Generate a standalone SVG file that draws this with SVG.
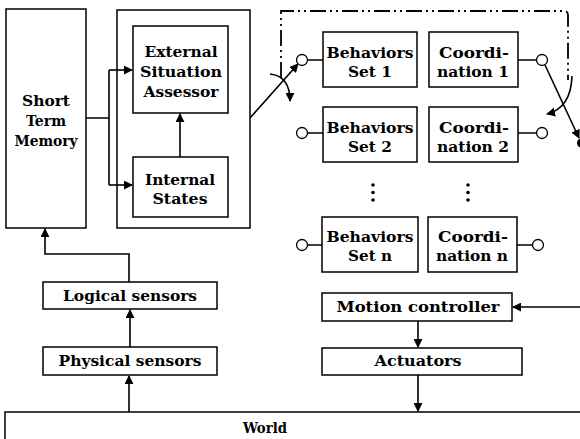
<svg xmlns="http://www.w3.org/2000/svg" width="580" height="439" viewBox="0 0 580 439">
<style>
.box{fill:#fff;stroke:#000;stroke-width:1.5}
.t{font-family:"DejaVu Serif","Liberation Serif",serif;font-weight:bold;font-size:15px;fill:#000;text-anchor:middle}
.ln{fill:none;stroke:#000;stroke-width:1.6}
.dd{fill:none;stroke:#000;stroke-width:1.8;stroke-dasharray:16 4 2 4 2 4}
.c{fill:#fff;stroke:#000;stroke-width:1.3}
</style>
<defs>
<marker id="ah" viewBox="0 0 10 10" refX="9" refY="5" markerWidth="9" markerHeight="9" markerUnits="userSpaceOnUse" orient="auto">
<path d="M0,0 L10,5 L0,10 z" fill="#000"/>
</marker>
</defs>
<rect width="580" height="439" fill="#fff"/>
<g id="stm"><rect class="box" x="6" y="9" width="80" height="219"/>
<text class="t" x="46" y="106" textLength="48" lengthAdjust="spacingAndGlyphs">Short</text>
<text class="t" x="46" y="126" textLength="40" lengthAdjust="spacingAndGlyphs">Term</text>
<text class="t" x="46" y="146" textLength="63" lengthAdjust="spacingAndGlyphs">Memory</text></g>
<g id="container"><rect class="box" x="117" y="10" width="133" height="218"/></g>
<g id="esa"><rect class="box" x="133" y="26" width="95" height="87"/>
<text class="t" x="181" y="57" textLength="73" lengthAdjust="spacingAndGlyphs">External</text>
<text class="t" x="181" y="77" textLength="82" lengthAdjust="spacingAndGlyphs">Situation</text>
<text class="t" x="181" y="97" textLength="75" lengthAdjust="spacingAndGlyphs">Assessor</text></g>
<g id="internal"><rect class="box" x="133" y="157" width="95" height="60"/>
<text class="t" x="180" y="185" textLength="70" lengthAdjust="spacingAndGlyphs">Internal</text>
<text class="t" x="180" y="204" textLength="55" lengthAdjust="spacingAndGlyphs">States</text></g>
<g id="bs1"><rect class="box" x="323" y="32" width="94" height="55"/>
<text class="t" x="370" y="58" textLength="87" lengthAdjust="spacingAndGlyphs">Behaviors</text>
<text class="t" x="370" y="77" textLength="44" lengthAdjust="spacingAndGlyphs">Set 1</text></g>
<g id="co1"><rect class="box" x="429" y="32" width="89" height="55"/>
<text class="t" x="474" y="58" textLength="70" lengthAdjust="spacingAndGlyphs">Coordi-</text>
<text class="t" x="473" y="77" textLength="72" lengthAdjust="spacingAndGlyphs">nation 1</text></g>
<g id="bs2"><rect class="box" x="323" y="107" width="94" height="55"/>
<text class="t" x="370" y="133" textLength="87" lengthAdjust="spacingAndGlyphs">Behaviors</text>
<text class="t" x="370" y="152" textLength="44" lengthAdjust="spacingAndGlyphs">Set 2</text></g>
<g id="co2"><rect class="box" x="429" y="107" width="89" height="55"/>
<text class="t" x="474" y="133" textLength="70" lengthAdjust="spacingAndGlyphs">Coordi-</text>
<text class="t" x="473" y="152" textLength="72" lengthAdjust="spacingAndGlyphs">nation 2</text></g>
<g id="bsn"><rect class="box" x="322" y="217" width="96" height="55"/>
<text class="t" x="370" y="242" textLength="87" lengthAdjust="spacingAndGlyphs">Behaviors</text>
<text class="t" x="370" y="261" textLength="44" lengthAdjust="spacingAndGlyphs">Set n</text></g>
<g id="con"><rect class="box" x="428" y="217" width="89" height="55"/>
<text class="t" x="473" y="242" textLength="70" lengthAdjust="spacingAndGlyphs">Coordi-</text>
<text class="t" x="472" y="261" textLength="72" lengthAdjust="spacingAndGlyphs">nation n</text></g>
<g id="dots" fill="#000">
<circle cx="373" cy="185" r="1.8"/><circle cx="373" cy="192.5" r="1.8"/><circle cx="373" cy="200" r="1.8"/>
<circle cx="468" cy="185" r="1.8"/><circle cx="468" cy="192.5" r="1.8"/><circle cx="468" cy="200" r="1.8"/>
</g>
<g id="logical"><rect class="box" x="43" y="282" width="174" height="27"/>
<text class="t" x="130" y="301" textLength="134" lengthAdjust="spacingAndGlyphs">Logical sensors</text></g>
<g id="physical"><rect class="box" x="43" y="347" width="174" height="28"/>
<text class="t" x="130" y="366" textLength="143" lengthAdjust="spacingAndGlyphs">Physical sensors</text></g>
<g id="motion"><rect class="box" x="322" y="293" width="190" height="28"/>
<text class="t" x="418" y="312" textLength="163" lengthAdjust="spacingAndGlyphs">Motion controller</text></g>
<g id="actuators"><rect class="box" x="322" y="348" width="200" height="27"/>
<text class="t" x="418" y="366" textLength="87" lengthAdjust="spacingAndGlyphs">Actuators</text></g>
<g id="world"><rect class="box" x="5" y="412" width="590" height="40"/>
<text class="t" x="265" y="433" textLength="44" lengthAdjust="spacingAndGlyphs">World</text></g>
<g id="connectors">
<path class="ln" d="M86,118 H109 M109,70 V185"/>
<path class="ln" d="M109,70 H132" marker-end="url(#ah)"/>
<path class="ln" d="M109,185 H132" marker-end="url(#ah)"/>
<path class="ln" d="M180,157 V114" marker-end="url(#ah)"/>
<path class="ln" d="M129,282 V254 H45 V229" marker-end="url(#ah)"/>
<path class="ln" d="M130,347 V310" marker-end="url(#ah)"/>
<path class="ln" d="M129,412 V376" marker-end="url(#ah)"/>
<path class="ln" d="M418,321 V347" marker-end="url(#ah)"/>
<path class="ln" d="M418,375 V411" marker-end="url(#ah)"/>
<path class="ln" d="M580,307 H513" marker-end="url(#ah)"/>
<path class="ln" d="M296.5,60 H323 M296.5,133 H323 M296.5,245 H322 M518,60 H536.5 M518,133 H536.5 M517,245 H532.5"/>
<path class="ln" d="M250,118 L298,64" marker-end="url(#ah)"/>
<path class="ln" d="M270,74 Q290,76 290,101" marker-end="url(#ah)"/>
<path class="dd" d="M281,78 V11 H564 Q568,11 568,15 V80"/>
<path class="ln" d="M572,76 Q571,108 547,114" marker-end="url(#ah)"/>
<path class="ln" d="M545,65 L579,138" marker-end="url(#ah)"/>
<circle cx="582" cy="143" r="5" fill="#000"/>
<circle class="c" cx="302" cy="60" r="5.5"/>
<circle class="c" cx="302" cy="133" r="5.5"/>
<circle class="c" cx="302" cy="245" r="5.5"/>
<circle class="c" cx="542" cy="60" r="5.5"/>
<circle class="c" cx="542" cy="133" r="5.5"/>
<circle class="c" cx="538" cy="245" r="5.5"/>
</g>
</svg>
